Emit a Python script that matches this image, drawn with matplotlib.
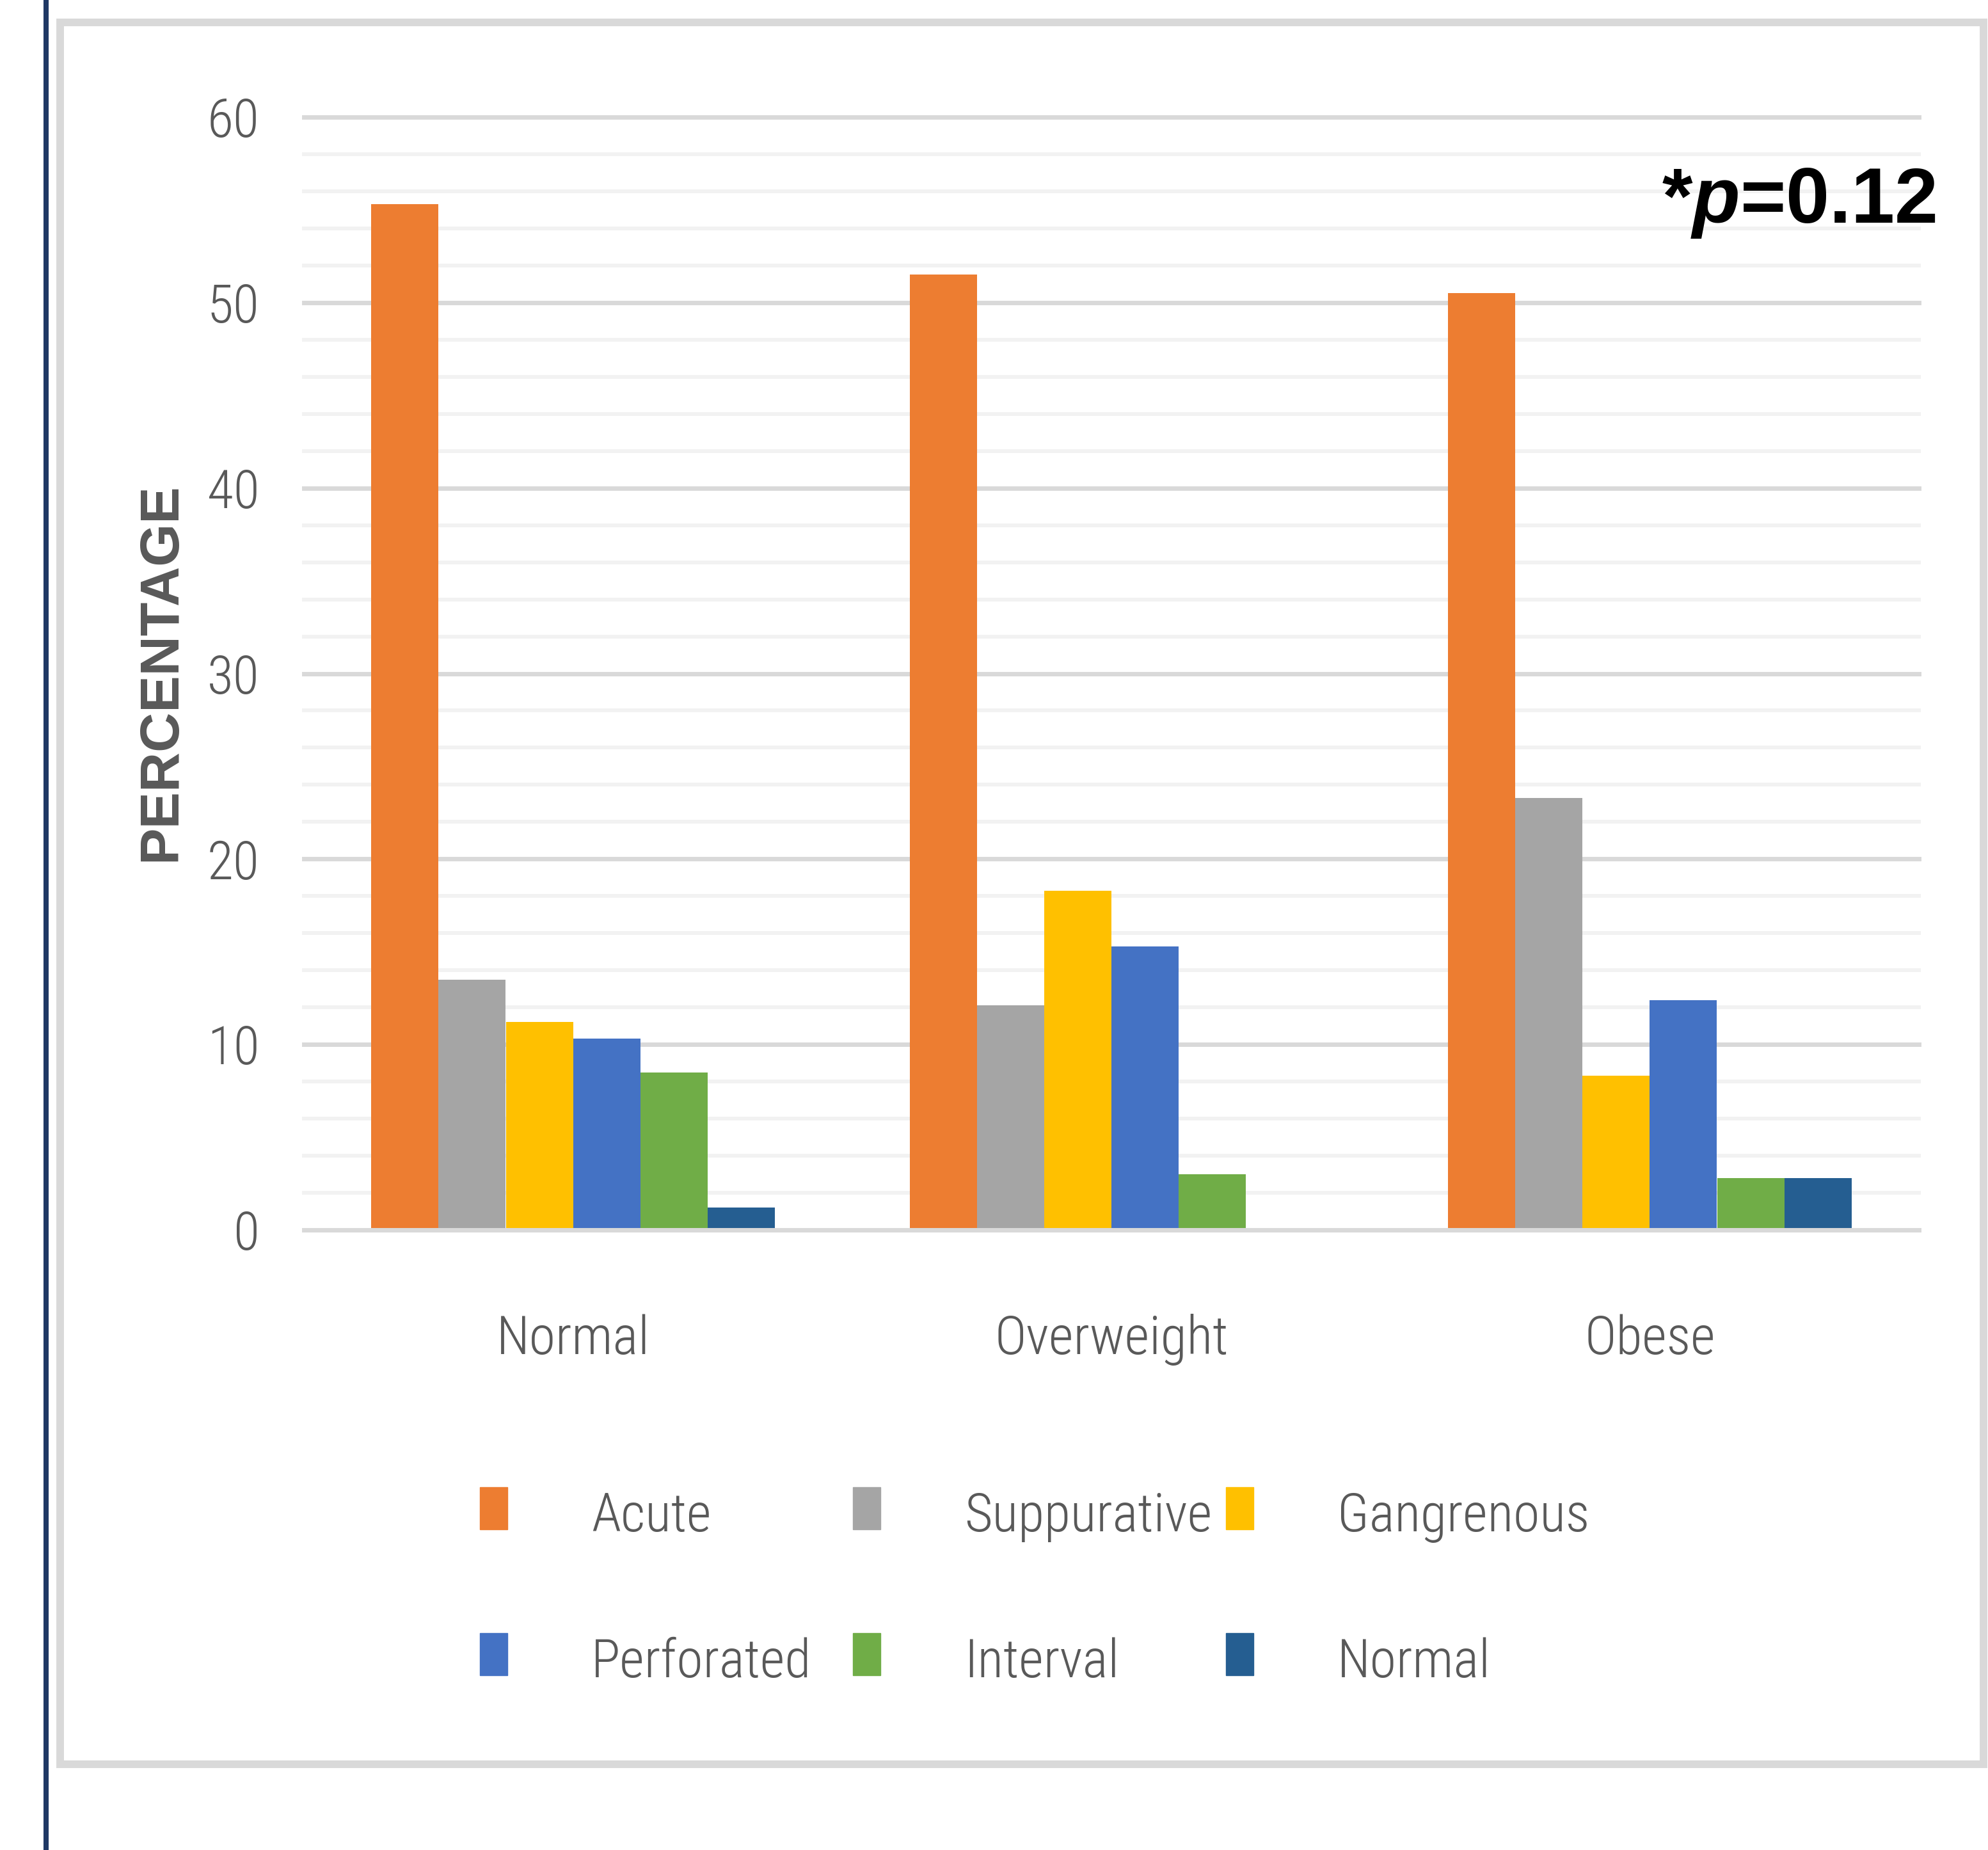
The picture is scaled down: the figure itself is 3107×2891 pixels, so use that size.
import matplotlib
matplotlib.use("Agg")
import matplotlib.pyplot as plt
from matplotlib import font_manager
from matplotlib.font_manager import FontProperties
from matplotlib.patches import Rectangle
from matplotlib.lines import Line2D
import numpy as np

# BMI groups and appendicitis types (percent of patients in each group)
groups = ["Normal", "Overweight", "Obese"]
series = ["Acute", "Suppurative", "Gangrenous", "Perforated", "Interval", "Normal"]
acute = [55.3, 51.5, 50.5]
suppurative = [13.5, 12.1, 23.3]
gangrenous = [11.2, 18.3, 8.3]
perforated = [10.3, 15.3, 12.4]
interval = [8.5, 3.0, 2.8]
normal_appendix = [1.2, 0.0, 2.8]
colors = ["#ED7D31", "#A5A5A5", "#FFC000", "#4472C4", "#70AD47", "#255E91"]
yticks = [0, 10, 20, 30, 40, 50, 60]
p_label = r"*$p$=0.12"

W, H = 3107, 2891
text_grey = "#595959"

plt.rcParams["mathtext.fontset"] = "custom"
plt.rcParams["mathtext.it"] = "Liberation Sans:italic:bold"
plt.rcParams["mathtext.rm"] = "Liberation Sans:bold"


def pick_narrow_font():
    """Return FontProperties for a narrow sans font, light weight if there is one."""
    fonts = [f for f in font_manager.fontManager.ttflist if f.style == "normal"]
    names = ["Liberation Sans Narrow", "Roboto Condensed", "Open Sans Condensed",
             "Noto Sans Condensed"]
    for weights in ((300, "light"), (400, "normal", "regular")):
        for name in names:
            for f in fonts:
                if f.name == name and f.weight in weights:
                    return FontProperties(fname=f.fname)
        for f in fonts:
            if f.stretch in ("condensed", "semi-condensed") and f.weight in weights \
                    and "Mono" not in f.name and "Serif" not in f.name:
                return FontProperties(fname=f.fname)
    return FontProperties(family="DejaVu Sans")


def fx(px):
    return px / W


def fy(py):
    return 1 - py / H


fig = plt.figure(figsize=(W / 100, H / 100), dpi=100)
renderer = fig.canvas.get_renderer()

# size the label font so "Overweight" comes out about 366 px wide
label_fp = pick_narrow_font()
probe = fig.text(0, 0, "Overweight", fontproperties=label_fp, fontsize=50)
label_size = 50 * 366 / probe.get_window_extent(renderer).width
probe.remove()
label_fp.set_size(label_size)

# outer chart frame and the dark rule on the left
fig.patches.append(Rectangle((fx(94), fy(2757)), (3100 - 94) / W, (2757 - 35) / H,
                             fill=False, edgecolor="#D9D9D9", lw=8.6,
                             transform=fig.transFigure))
fig.add_artist(Line2D([fx(72), fx(72)], [0, 1], color="#1F3864", lw=5.8))

ax = fig.add_axes([fx(475), fy(1922), (2999 - 475) / W, (1922 - 183) / H])

data = [acute, suppurative, gangrenous, perforated, interval, normal_appendix]
x = np.arange(len(groups))
width = 0.125
for j, (vals, c) in enumerate(zip(data, colors)):
    ax.bar(x + (j - 2.5) * width, vals, width, color=c, zorder=2, linewidth=0)

# gridlines every 2, darker every 10
for v in range(0, 61, 2):
    major = v % 10 == 0
    ax.axhline(v, color="#D9D9D9" if major else "#F2F2F2",
               lw=5 if major else 4.3, zorder=3 if v == 0 else 1, clip_on=False)

ax.set_xlim(-0.5, 2.5)
ax.set_ylim(0, 60)
ax.set_yticks(yticks)
ax.set_xticks(x, groups)
for s in ax.spines.values():
    s.set_visible(False)
ax.tick_params(axis="both", length=0, colors=text_grey)
ax.tick_params(axis="y", pad=50)
ax.tick_params(axis="x", pad=140)
for lab in ax.get_xticklabels() + ax.get_yticklabels():
    lab.set_fontproperties(label_fp)
for lab in ax.get_xticklabels():
    lab.set_va("baseline")

fig.text(fx(252), fy(1050), "PERCENTAGE", rotation=90, ha="center", va="center",
         fontsize=62, weight="bold", color=text_grey, family="Liberation Sans")

fig.text(fx(3026), fy(348), p_label, ha="right", va="baseline",
         fontsize=88, weight="bold", color="black", family="Liberation Sans")

# legend: two rows of three
for i, (name, c) in enumerate(zip(series, colors)):
    row, col = divmod(i, 3)
    left = 750 + col * 583
    bottom = 2390 + row * 228
    fig.patches.append(Rectangle((fx(left), fy(bottom)), 43 / W, 66 / H,
                                 color=c, transform=fig.transFigure))
    fig.text(fx(left + 174), fy(bottom + 3), name, va="baseline", ha="left",
             fontproperties=label_fp, color=text_grey)

fig.savefig("out.png", dpi=100)
